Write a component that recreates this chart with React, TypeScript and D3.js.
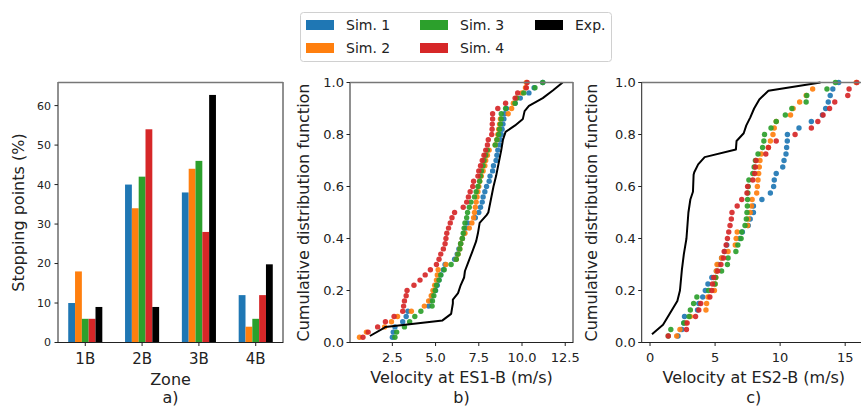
import React from "react";
import * as d3 from "d3";

// ---------- Panel a data ----------
const zones = ["1B", "2B", "3B", "4B"];
const sim1Stops = [10, 40, 38, 12];
const sim2Stops = [18, 34, 44, 4];
const sim3Stops = [6, 42, 46, 6];
const sim4Stops = [6, 54, 28, 12];
const expStops = [9, 9, 62.7, 19.8];
const aYTicks = [0, 10, 20, 30, 40, 50, 60];

// ---------- Panel b data (velocity at ES1-B, sorted) ----------
const sim1ES1 = [2.5, 2.55, 2.65, 3.1, 3.3, 3.4, 4.6, 4.7, 4.8, 5.0, 5.1, 5.2, 5.3, 5.45, 5.55, 6.1, 6.25, 6.35, 6.45, 6.55, 6.65, 6.75, 6.85,
  7.3, 7.5, 7.6, 7.7, 7.75, 7.85, 7.95, 8.1, 8.15, 8.3, 8.35, 8.5, 8.55, 8.6, 8.7, 8.75, 8.8, 8.85, 8.9, 8.95, 9.0, 9.1, 9.6, 9.9, 10.4, 10.7, 11.2];
const sim2ES1 = [0.6, 1.0, 2.05, 2.45, 2.8, 3.6, 4.35, 4.6, 4.75, 4.85, 4.95, 5.05, 5.1, 5.15, 5.6, 6.2, 6.3, 6.4, 6.45, 6.55, 6.7, 6.95, 7.1, 7.2, 7.25,
  7.3, 7.35, 7.4, 7.45, 7.5, 7.55, 7.65, 7.75, 7.85, 7.9, 8.0, 8.1, 8.45, 8.55, 8.6, 8.65, 8.7, 8.75, 9.2, 9.4, 9.5, 9.7, 10.0, 10.2, 10.25];
const sim3ES1 = [2.65, 2.75, 3.2, 3.5, 3.8, 4.15, 4.8, 4.82, 4.9, 4.98, 5.05, 5.2, 5.3, 5.5, 5.9, 6.2, 6.3, 6.4, 6.45, 6.55, 6.6, 6.65, 6.7, 6.8, 6.85,
  6.95, 7.05, 7.25, 7.35, 7.45, 7.55, 7.6, 7.65, 7.75, 7.8, 7.9, 8.0, 8.45, 8.55, 8.65, 8.7, 8.75, 8.8, 8.8, 9.05, 9.6, 9.7, 10.1, 10.75, 11.2];
const sim4ES1 = [0.8, 1.1, 1.65, 2.1, 2.6, 3.1, 3.15, 3.2, 3.3, 3.35, 3.75, 4.1, 4.4, 4.7, 5.05, 5.2, 5.3, 5.45, 5.55, 5.6, 5.65, 5.75, 5.85, 5.95, 6.1,
  6.6, 6.8, 6.9, 7.0, 7.15, 7.2, 7.45, 7.5, 7.6, 7.7, 7.8, 7.9, 8.0, 8.05, 8.25, 8.27, 8.28, 8.3, 8.3, 8.6, 9.05, 9.6, 9.75, 10.25, 10.3];
const expES1x = [1.2, 2.0, 2.1, 5.4, 5.9, 6.0, 6.0, 6.3, 6.45, 6.65, 6.7, 6.9, 7.1, 7.35, 7.45, 7.55, 7.95, 8.05, 8.2, 8.35, 8.5, 8.65, 8.8, 8.9, 9.05, 9.6, 10.05, 10.15, 10.4, 11.2, 11.8, 12.35];
const expES1y = [0.025, 0.055, 0.06, 0.085, 0.11, 0.15, 0.165, 0.19, 0.22, 0.25, 0.275, 0.31, 0.345, 0.39, 0.42, 0.46, 0.49, 0.5, 0.55, 0.6, 0.64, 0.69, 0.74, 0.78, 0.81, 0.835, 0.86, 0.89, 0.91, 0.94, 0.97, 1.0];
const bXTicks = [2.5, 5.0, 7.5, 10.0, 12.5];

// ---------- Panel c data (velocity at ES2-B, sorted) ----------
const sim1ES2 = [2.15, 2.45, 2.6, 2.65, 3.65, 3.75, 4.05, 4.25, 4.45, 4.75, 5.1, 5.25, 5.5, 5.75, 5.9, 6.9, 7.1, 7.55, 7.7, 7.95,
  7.95, 8.6, 9.25, 9.5, 9.55, 9.7, 10.2, 10.3, 10.45, 10.5, 10.55, 10.56, 11.45, 12.4, 13.25, 13.5, 13.7, 13.85, 14.05, 14.5];
const sim2ES2 = [2.05, 2.3, 2.75, 3.1, 4.3, 4.35, 4.45, 4.95, 5.0, 5.05, 5.1, 5.15, 5.5, 6.0, 6.55, 6.62, 6.7, 7.5, 7.55, 7.7,
  7.8, 7.85, 8.2, 8.25, 8.3, 8.35, 8.4, 8.45, 8.55, 9.1, 9.25, 9.45, 9.55, 9.7, 10.8, 11.0, 11.5, 12.0, 12.5, 15.85];
const sim3ES2 = [1.4, 1.6, 2.6, 3.0, 3.1, 3.35, 3.6, 4.5, 5.0, 5.05, 5.5, 5.95, 6.0, 6.6, 6.75, 7.0, 7.05, 7.3, 7.4, 7.45,
  7.48, 7.5, 7.52, 7.55, 7.6, 7.9, 8.0, 8.1, 8.3, 8.65, 8.75, 8.8, 9.3, 9.7, 10.4, 10.9, 12.0, 12.05, 13.6, 14.25];
const sim4ES2 = [1.4, 2.8, 2.85, 3.5, 3.75, 3.9, 4.6, 4.75, 4.8, 4.9, 5.2, 5.45, 5.65, 5.7, 5.85, 5.95, 6.05, 6.15, 6.25, 6.3,
  6.7, 7.05, 7.45, 7.5, 7.9, 8.05, 8.1, 8.15, 8.9, 9.1, 9.7, 11.15, 12.4, 12.9, 13.3, 13.8, 14.2, 15.2, 15.3, 15.9];
const expES2x = [0.15, 1.0, 2.1, 2.3, 2.45, 2.6, 2.8, 2.95, 3.1, 3.3, 3.35, 3.4, 3.7, 4.2, 6.6, 6.65, 7.2, 7.4, 7.7, 8.0, 8.4, 9.1, 13.1];
const expES2y = [0.032, 0.068, 0.16, 0.2, 0.28, 0.34, 0.4, 0.5, 0.55, 0.58, 0.645, 0.655, 0.685, 0.713, 0.742, 0.775, 0.805, 0.835, 0.865, 0.9, 0.935, 0.968, 1.0];
const cXTicks = [0, 5, 10, 15];
const cdfTicks = [0, 0.2, 0.4, 0.6, 0.8, 1.0];

const seriesNames = ["Sim. 1", "Sim. 2", "Sim. 3", "Sim. 4", "Exp."];
const colors = ["#1f77b4", "#ff7f0e", "#2ca02c", "#d62728", "#000000"];

const FONT = "'DejaVu Sans', sans-serif";
const TOP = 82.5;
const BOTTOM = 342.5;

function Frame({ x0, x1 }: { x0: number; x1: number }) {
  return (
    <g>
      <rect x={x0} y={TOP} width={x1 - x0} height={BOTTOM - TOP} fill="none" stroke="#222" strokeWidth={1} />
      <line x1={x0} x2={x1} y1={TOP} y2={TOP} stroke="#777" strokeWidth={1.6} />
    </g>
  );
}

export default function App() {
  // Panel a
  const xA = d3.scaleLinear().domain([-0.48, 3.48]).range([58, 283]);
  const yA = d3.scaleLinear().domain([0, 65.85]).range([BOTTOM, TOP]);
  const barW = 0.12;
  const stops = [sim1Stops, sim2Stops, sim3Stops, sim4Stops, expStops];

  // Panel b
  const xB = d3.scaleLinear().domain([0.05, 12.95]).range([350, 573]);
  const yB = d3.scaleLinear().domain([0, 1]).range([BOTTOM, TOP]);
  // Panel c
  const xC = d3.scaleLinear().domain([-0.64, 16.6]).range([641.7, 866]);

  const bSims = [sim1ES1, sim2ES1, sim3ES1, sim4ES1];
  const cSims = [sim1ES2, sim2ES2, sim3ES2, sim4ES2];

  const lineB = d3.line<number>().x((d) => xB(d)).y((_, i) => yB(expES1y[i]));
  const lineC = d3.line<number>().x((d) => xC(d)).y((_, i) => yB(expES2y[i]));

  const tickColor = "#222";

  const cdfPanel = (
    xs: d3.ScaleLinear<number, number>,
    sims: number[][],
    expPath: string,
    ticks: number[],
    tickFmt: (v: number) => string,
    x0: number,
    x1: number,
    label: string,
    letter: string,
    ylabX: number
  ) => (
    <g>
      <defs>
        <clipPath id={"clip" + letter}>
          <rect x={x0} y={TOP - 6} width={x1 - x0} height={BOTTOM - TOP + 12} />
        </clipPath>
      </defs>
      <g clipPath={`url(#clip${letter})`}>
        {sims.map((vals, s) =>
          vals.map((v, i) => (
            <circle key={`${s}-${i}`} cx={xs(v)} cy={yB((i + 1) / vals.length)} r={2.7} fill={colors[s]} fillOpacity={0.92} />
          ))
        )}
        <path d={expPath} fill="none" stroke="#000" strokeWidth={2} strokeLinejoin="round" />
      </g>
      <Frame x0={x0} x1={x1} />
      {cdfTicks.map((t) => (
        <g key={"y" + t}>
          <line x1={x0 - 3.5} x2={x0} y1={yB(t)} y2={yB(t)} stroke={tickColor} />
          <text x={x0 - 6} y={yB(t)} dy="0.36em" textAnchor="end" fontSize={13} fill="#222">{t.toFixed(1)}</text>
        </g>
      ))}
      {ticks.map((t) => (
        <g key={"x" + t}>
          <line x1={xs(t)} x2={xs(t)} y1={BOTTOM} y2={BOTTOM + 3.5} stroke={tickColor} />
          <text x={xs(t)} y={362} textAnchor="middle" fontSize={13} fill="#222">{tickFmt(t)}</text>
        </g>
      ))}
      <text x={(x0 + x1) / 2} y={383} textAnchor="middle" fontSize={16} fill="#222">{label}</text>
      <text x={(x0 + x1) / 2} y={403} textAnchor="middle" fontSize={16} fill="#222">{letter + ")"}</text>
      <text transform={`translate(${ylabX},${(TOP + BOTTOM) / 2}) rotate(-90)`} textAnchor="middle" fontSize={16} fill="#222">
        Cumulative distribution function
      </text>
    </g>
  );

  const legendItems = [
    { name: seriesNames[0], color: colors[0], col: 0, row: 0 },
    { name: seriesNames[1], color: colors[1], col: 0, row: 1 },
    { name: seriesNames[2], color: colors[2], col: 1, row: 0 },
    { name: seriesNames[3], color: colors[3], col: 1, row: 1 },
    { name: seriesNames[4], color: colors[4], col: 2, row: 0 },
  ];
  const colPatchX = [306, 420, 535];
  const rowY = [25, 48];

  return (
    <svg width={861} height={408} style={{ position: "absolute", left: 0, top: 0, background: "#fff" }} fontFamily={FONT}>
      <rect x={0} y={0} width={861} height={408} fill="#fff" />
      {/* Legend */}
      <rect x={300.5} y={12.5} width={311} height={49} rx={3} fill="#fff" stroke="#d0d0d0" strokeWidth={1} />
      {legendItems.map((it) => (
        <g key={it.name}>
          <rect x={colPatchX[it.col]} y={rowY[it.row] - 5} width={28} height={10} fill={it.color} />
          <text x={colPatchX[it.col] + 40} y={rowY[it.row]} dy="0.36em" fontSize={14} fill="#222">{it.name}</text>
        </g>
      ))}

      {/* Panel a */}
      <g>
        {stops.map((vals, s) =>
          vals.map((v, i) => (
            <rect key={`a${s}-${i}`} x={xA(i + (s - 2) * barW - barW / 2)} y={yA(v)}
              width={xA(barW) - xA(0)} height={yA(0) - yA(v)} fill={colors[s]} />
          ))
        )}
        <Frame x0={58} x1={283} />
        {aYTicks.map((t) => (
          <g key={"ay" + t}>
            <line x1={54.5} x2={58} y1={yA(t)} y2={yA(t)} stroke={tickColor} />
            <text x={51} y={yA(t)} dy="0.36em" textAnchor="end" fontSize={11} fill="#222">{t}</text>
          </g>
        ))}
        {zones.map((z, i) => (
          <g key={z}>
            <line x1={xA(i)} x2={xA(i)} y1={BOTTOM} y2={BOTTOM + 3.5} stroke={tickColor} />
            <text x={xA(i)} y={364} textAnchor="middle" fontSize={15} fill="#222">{z}</text>
          </g>
        ))}
        <text x={170.5} y={385} textAnchor="middle" fontSize={16} fill="#222">Zone</text>
        <text x={170.5} y={403} textAnchor="middle" fontSize={16} fill="#222">a)</text>
        <text transform={`translate(24,${(TOP + BOTTOM) / 2}) rotate(-90)`} textAnchor="middle" fontSize={16} fill="#222">
          Stopping points (%)
        </text>
      </g>

      {cdfPanel(xB, bSims, lineB(expES1x) || "", bXTicks, (v) => v.toFixed(1), 350, 573, "Velocity at ES1-B (m/s)", "b", 309)}
      {cdfPanel(xC, cSims, lineC(expES2x) || "", cXTicks, (v) => String(v), 641.7, 866, "Velocity at ES2-B (m/s)", "c", 597)}
    </svg>
  );
}
